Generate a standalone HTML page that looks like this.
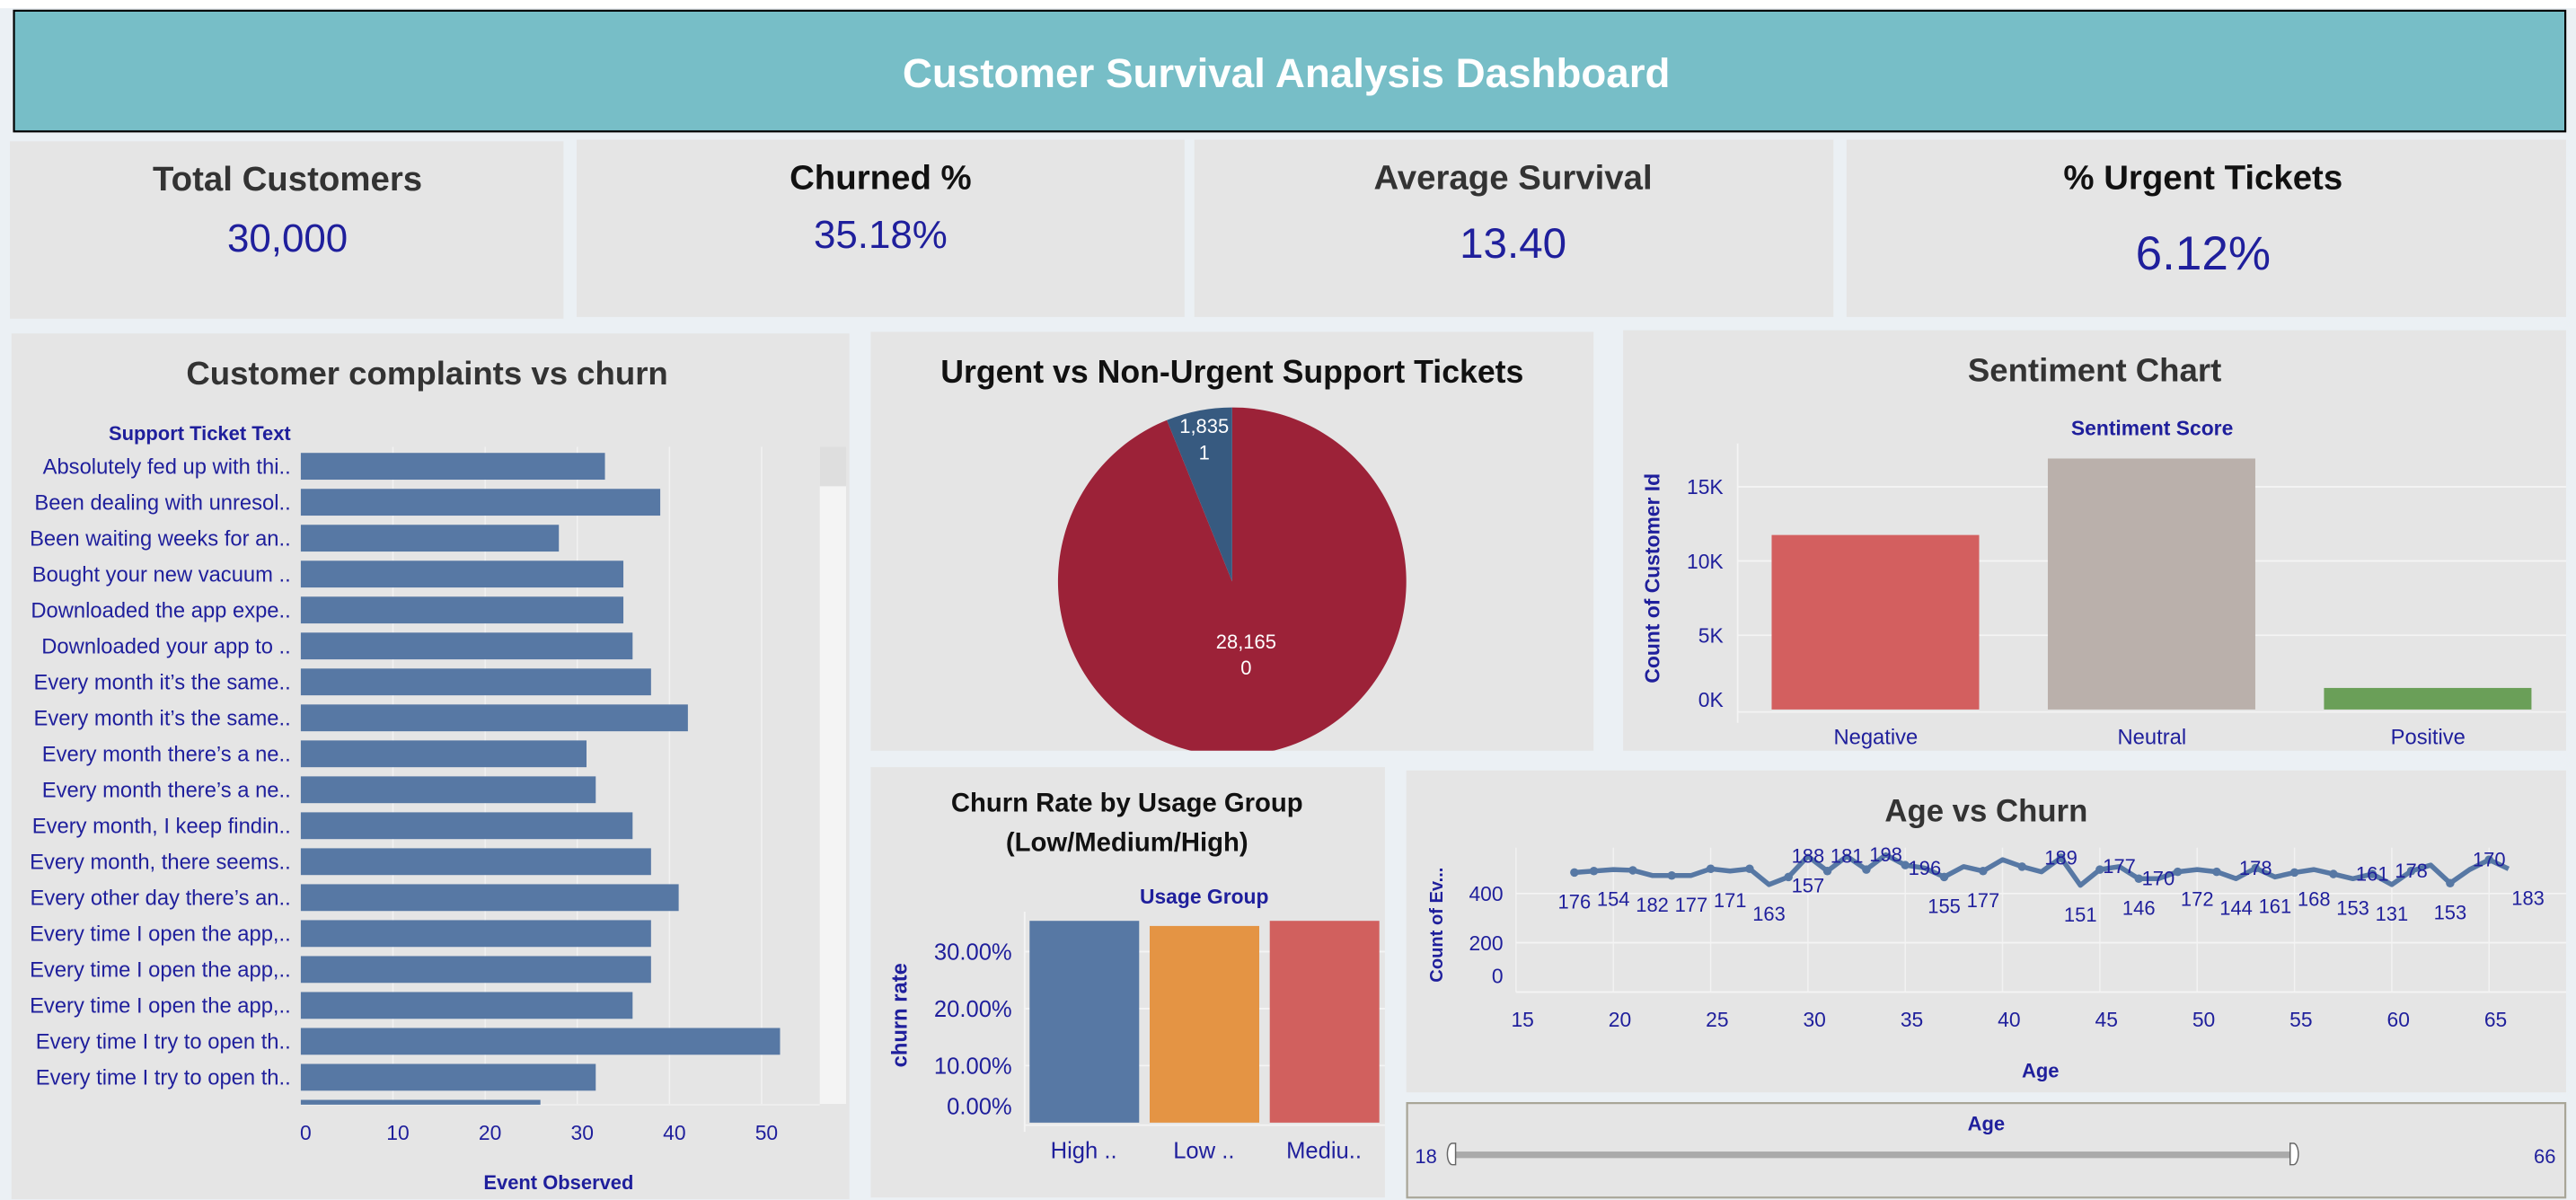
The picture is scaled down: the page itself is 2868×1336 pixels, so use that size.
<!DOCTYPE html>
<html><head><meta charset="utf-8"><title>Customer Survival Analysis Dashboard</title>
<style>
html,body{margin:0;padding:0;background:#ebf0f4;}
svg{display:block;font-family:"Liberation Sans",sans-serif;}
</style></head>
<body>
<svg id="dash" width="2868" height="1336" viewBox="0 0 1568 730.5" preserveAspectRatio="none" xmlns="http://www.w3.org/2000/svg">
<rect x="0" y="0" width="1568" height="730.5" fill="#ebf0f4"/>
<rect x="0" y="0" width="1568" height="5" fill="#ffffff"/>
<g>
<rect x="8.5" y="6.5" width="1553" height="73.5" fill="#77bec7" stroke="#000" stroke-width="1.2"/>
<text x="783" y="53" text-anchor="middle" font-size="25" font-weight="bold" fill="#fff">Customer Survival Analysis Dashboard</text>
</g>
<g>
<rect x="6" y="86" width="337" height="108" fill="#e5e5e5"/>
<text x="175" y="116" text-anchor="middle" font-size="21" font-weight="bold" fill="#333">Total Customers</text>
<text x="175" y="153" text-anchor="middle" font-size="24" fill="#1f1f9c">30,000</text>
</g>
<g>
<rect x="351" y="85" width="370" height="108" fill="#e5e5e5"/>
<text x="536" y="115" text-anchor="middle" font-size="21" font-weight="bold" fill="#111">Churned %</text>
<text x="536" y="151" text-anchor="middle" font-size="24" fill="#1f1f9c">35.18%</text>
</g>
<g>
<rect x="727" y="85" width="389" height="108" fill="#e5e5e5"/>
<text x="921" y="115" text-anchor="middle" font-size="21" font-weight="bold" fill="#333">Average  Survival</text>
<text x="921" y="157" text-anchor="middle" font-size="26" fill="#1f1f9c">13.40</text>
</g>
<g>
<rect x="1124" y="85" width="438" height="108" fill="#e5e5e5"/>
<text x="1341" y="115" text-anchor="middle" font-size="21" font-weight="bold" fill="#111">% Urgent Tickets</text>
<text x="1341" y="164" text-anchor="middle" font-size="29" fill="#1f1f9c">6.12%</text>
</g>

<g id="complaints">
<rect x="7" y="203" width="510" height="527" fill="#e5e5e5"/>
<text x="260" y="234" text-anchor="middle" font-size="20" font-weight="bold" fill="#333">Customer complaints vs churn</text>
<text x="177" y="268" text-anchor="end" font-size="12" font-weight="bold" fill="#1f1f9c">Support Ticket Text</text>
<text x="340" y="724" text-anchor="middle" font-size="12" font-weight="bold" fill="#1f1f9c">Event Observed</text>
<rect x="499" y="272" width="16" height="400" fill="#f4f4f4"/>
<rect x="499" y="272" width="16" height="24" fill="#dedede"/>
</g>

<g id="pie">
<rect x="530" y="202" width="440" height="255" fill="#e5e5e5"/>
<text x="750" y="233" text-anchor="middle" font-size="19.5" font-weight="bold" fill="#111">Urgent vs Non-Urgent Support Tickets</text>
</g>

<g id="senti">
<rect x="988" y="201" width="574" height="256" fill="#e5e5e5"/>
<text x="1275" y="232" text-anchor="middle" font-size="20" font-weight="bold" fill="#333">Sentiment Chart</text>
<text x="1310" y="265" text-anchor="middle" font-size="12.5" font-weight="bold" fill="#1f1f9c">Sentiment Score</text>
<text transform="translate(1010,352) rotate(-90)" text-anchor="middle" font-size="12.5" font-weight="bold" fill="#1f1f9c">Count of Customer Id</text>
</g>

<g id="usage">
<rect x="530" y="467" width="313" height="262" fill="#e5e5e5"/>
<text x="686" y="494" text-anchor="middle" font-size="16" font-weight="bold" fill="#111">Churn Rate by Usage Group</text>
<text x="686" y="518" text-anchor="middle" font-size="16" font-weight="bold" fill="#111">(Low/Medium/High)</text>
<text x="733" y="550" text-anchor="middle" font-size="12.5" font-weight="bold" fill="#1f1f9c">Usage Group</text>
<text transform="translate(552,618) rotate(-90)" text-anchor="middle" font-size="13" font-weight="bold" fill="#1f1f9c">churn rate</text>
</g>

<g id="age">
<rect x="856" y="469" width="706" height="196" fill="#e5e5e5"/>
<text x="1209" y="500" text-anchor="middle" font-size="19" font-weight="bold" fill="#333">Age vs Churn</text>
<text x="1242" y="656" text-anchor="middle" font-size="12" font-weight="bold" fill="#1f1f9c">Age</text>
<text transform="translate(878,563) rotate(-90)" text-anchor="middle" font-size="11" font-weight="bold" fill="#1f1f9c">Count of Ev...</text>
</g>

<g>
<rect x="856.5" y="671.5" width="705" height="57.5" fill="#e5e5e5" stroke="#a8a597" stroke-width="1.2"/>
<text x="1209" y="688" text-anchor="middle" font-size="12" font-weight="bold" fill="#1f1f9c">Age</text>
<text x="868" y="708" text-anchor="middle" font-size="12" fill="#1f1f9c">18</text>
<text x="1549" y="708" text-anchor="middle" font-size="12" fill="#1f1f9c">66</text>
<rect x="884" y="701" width="513" height="4" fill="#aaaaaa"/>
<path d="M886 696 h-2 a3 6.5 0 0 0 0 13 h2 z" fill="#fff" stroke="#666" stroke-width="0.8"/>
<path d="M1394 696 h2 a3 6.5 0 0 1 0 13 h-2 z" fill="#fff" stroke="#666" stroke-width="0.8"/>
</g>
</svg>
<script>
// ---------- data ----------
const complaintLabels = ["Absolutely fed up with thi..","Been dealing with unresol..","Been waiting weeks for an..","Bought your new vacuum ..","Downloaded the app expe..","Downloaded your app to ..","Every month it\u2019s the same..","Every month it\u2019s the same..","Every month there\u2019s a ne..","Every month there\u2019s a ne..","Every month, I keep findin..","Every month, there seems..","Every other day there\u2019s an..","Every time I open the app,..","Every time I open the app,..","Every time I open the app,..","Every time I try to open th..","Every time I try to open th..","Every time I try to open th.."];
const complaintValues = [33,39,28,35,35,36,38,42,31,32,36,38,41,38,38,36,52,32,26];
const complaintTicks = [0,10,20,30,40,50];

const pieCategories = ["0","1"];
const pieValues = [28165,1835];
const pieLabels = ["28,165","1,835"];

const sentimentCategories = ["Negative","Neutral","Positive"];
const sentimentValues = [11750,16900,1450];
const sentimentTicks = [0,5000,10000,15000];
const sentimentTickLabels = ["0K","5K","10K","15K"];

const usageCategories = ["High ..","Low ..","Mediu.."];
const usageValues = [0.354,0.345,0.354];
const usageTicks = [0,0.1,0.2,0.3];
const usageTickLabels = ["0.00%","10.00%","20.00%","30.00%"];

const ages = [18,19,20,21,22,23,24,25,26,27,28,29,30,31,32,33,34,35,36,37,38,39,40,41,42,43,44,45,46,47,48,49,50,51,52,53,54,55,56,57,58,59,60,61,62,63,64,65,66];
const ageCounts = [485,491,497,494,473,473,473,500,491,500,436,467,551,491,551,497,557,515,503,467,509,491,537,509,488,545,433,497,509,460,460,488,497,488,460,503,467,485,497,479,460,479,436,491,515,442,497,537,500];
const ageLabelAges = [18,20,22,24,26,28,30,30,32,34,36,37,39,43,44,46,47,48,50,52,53,54,56,58,59,60,61,63,65,67];
const ageLabelTexts = ["176","154","182","177","171","163","157","188","181","198","196","155","177","189","151","177","146","170","172","144","178","161","168","153","161","131","178","153","170","183"];
const ageLabelAbove = [0,0,0,0,0,0,0,1,1,1,1,0,0,1,0,1,0,1,0,0,1,0,0,0,1,0,1,0,1,0];
const ageXTicks = [15,20,25,30,35,40,45,50,55,60,65];
const ageYTicks = [0,200,400];

const NS = "http://www.w3.org/2000/svg";
const BLUE = "#1f1f9c";
function mk(parent, tag, attrs, txt){
  const e = document.createElementNS(NS, tag);
  for (const k in attrs) e.setAttribute(k, attrs[k]);
  if (txt !== undefined) e.textContent = txt;
  parent.appendChild(e);
  return e;
}

// ---------- complaints bar chart ----------
(function(){
  const g = document.getElementById('complaints');
  const x0 = 183.1, pxPerUnit = 5.61;
  const xs = v => x0 + v * pxPerUnit;
  const rowY = i => 275.7 + i * 21.88;
  const barH = 16.3;
  for (const t of complaintTicks) {
    if (t > 0) {
      const l = mk(g, 'line', {x1: xs(t), x2: xs(t), y1: 272, y2: 672, stroke: '#f2f2f2', 'stroke-width': 0.8});
      
      
    }
    const tl = mk(g, 'text', {x: xs(t) + 3, y: 694, 'text-anchor': 'middle', 'font-size': 12.5, fill: BLUE}, String(t));
    
    
  }
  mk(g, 'line', {x1: 183, x2: 499, y1: 672.5, y2: 672.5, stroke: '#f2f2f2', 'stroke-width': 0.8});
  const clip = mk(g, 'clipPath', {id: 'cclip'});
  mk(clip, 'rect', {x: 0, y: 270, width: 520, height: 402.5});
  const bg = mk(g, 'g', {'clip-path': 'url(#cclip)'});
  complaintValues.forEach((v, i) => {
    const r = mk(bg, 'rect', {x: x0, y: rowY(i), width: xs(v) - x0, height: barH, fill: '#5778a4'});
    
    
    const t = mk(bg, 'text', {x: 177, y: rowY(i) + barH/2 + 4.5, 'text-anchor': 'end', 'font-size': 13, fill: BLUE}, complaintLabels[i]);
    
    
  });
})();

// ---------- pie ----------
(function(){
  const g = document.getElementById('pie');
  const cx = 750, cy = 354, R = 106;
  const clip = mk(g, 'clipPath', {id: 'pclip'});
  mk(clip, 'rect', {x: 530, y: 202, width: 440, height: 255});
  const pg = mk(g, 'g', {'clip-path': 'url(#pclip)'});
  const total = pieValues.reduce((a, b) => a + b, 0);
  const colors = ['#9c2238', '#375a80'];
  let a0 = 0;
  const pt = (a, r) => [cx + r * Math.sin(a), cy - r * Math.cos(a)];
  pieValues.forEach((v, i) => {
    const a1 = a0 + v / total * 2 * Math.PI;
    const p0 = pt(a0, R), p1 = pt(a1, R);
    const large = (a1 - a0) > Math.PI ? 1 : 0;
    const p = mk(pg, 'path', {d: `M${cx},${cy} L${p0[0]},${p0[1]} A${R},${R} 0 ${large} 1 ${p1[0]},${p1[1]} Z`, fill: colors[i]});
    
    
    const mid = (a0 + a1) / 2;
    const lr = (a1 - a0) < 1 ? 0.84 * R : 0.42 * R;
    const lp = pt(mid, lr);
    const t1 = mk(pg, 'text', {x: lp[0], y: lp[1] - 3, 'text-anchor': 'middle', 'font-size': 12, fill: '#fff'}, pieLabels[i]);
    
    
    const t2 = mk(pg, 'text', {x: lp[0], y: lp[1] + 13, 'text-anchor': 'middle', 'font-size': 12, fill: '#fff'}, pieCategories[i]);
    
    
    a0 = a1;
  });
})();

// ---------- sentiment ----------
(function(){
  const g = document.getElementById('senti');
  const base = 431.9, per = 45.2 / 5000;
  const ys = v => base - v * per;
  const left = 1057.7, right = 1562, band = (right - left) / 3;
  sentimentTicks.forEach((t, i) => {
    if (t > 0) {
      const l = mk(g, 'line', {x1: left, x2: right, y1: ys(t), y2: ys(t), stroke: '#f4f4f4', 'stroke-width': 1});
      
      
    }
    const tl = mk(g, 'text', {x: 1049, y: (t === 0 ? ys(t) - 6 : ys(t)) + 4.5, 'text-anchor': 'end', 'font-size': 12.5, fill: BLUE}, sentimentTickLabels[i]);
    
    
  });
  mk(g, 'line', {x1: left, x2: right, y1: base + 1.5, y2: base + 1.5, stroke: '#f4f4f4', 'stroke-width': 1});
  mk(g, 'line', {x1: left, x2: left, y1: 270, y2: 440, stroke: '#f4f4f4', 'stroke-width': 1});
  const colors = ['#d35f5f', '#bab0ab', '#6a9f58'];
  sentimentValues.forEach((v, i) => {
    const bx = left + i * band + 20.7;
    const r = mk(g, 'rect', {x: bx, y: ys(v), width: 126.3, height: base - ys(v), fill: colors[i]});
    
    
    const t = mk(g, 'text', {x: left + (i + 0.5) * band, y: 453, 'text-anchor': 'middle', 'font-size': 13, fill: BLUE}, sentimentCategories[i]);
    
    
  });
})();

// ---------- usage ----------
(function(){
  const g = document.getElementById('usage');
  const base = 683.4, per = 34.7 / 0.1;
  const ys = v => base - v * per;
  const left = 623.7, right = 843, band = (right - left) / 3;
  usageTicks.forEach((t, i) => {
    if (t > 0) {
      const l = mk(g, 'line', {x1: left, x2: right, y1: ys(t), y2: ys(t), stroke: '#f4f4f4', 'stroke-width': 1});
      
      
    }
    const tl = mk(g, 'text', {x: 616, y: (t === 0 ? ys(t) - 10 : ys(t)) + 5, 'text-anchor': 'end', 'font-size': 14, fill: BLUE}, usageTickLabels[i]);
    
    
  });
  mk(g, 'line', {x1: left, x2: right, y1: base + 1.5, y2: base + 1.5, stroke: '#f4f4f4', 'stroke-width': 1});
  mk(g, 'line', {x1: left, x2: left, y1: 555, y2: 689, stroke: '#f4f4f4', 'stroke-width': 1});
  const colors = ['#5778a4', '#e49444', '#d1605e'];
  usageValues.forEach((v, i) => {
    const bx = left + i * band + 3;
    const r = mk(g, 'rect', {x: bx, y: ys(v), width: 66.7, height: base - ys(v), fill: colors[i]});
    
    
    const t = mk(g, 'text', {x: bx + 33, y: 705, 'text-anchor': 'middle', 'font-size': 14, fill: BLUE}, usageCategories[i]);
    
    
  });
})();

// ---------- age line ----------
(function(){
  const g = document.getElementById('age');
  const xs = a => 922.8 + (a - 15) * 11.846;
  const base = 603.9, per = 30 / 200;
  const ys = v => base - v * per;
  const left = 922.8, right = 1562, top = 516;
  ageXTicks.forEach(t => {
    const l = mk(g, 'line', {x1: xs(t), x2: xs(t), y1: top, y2: base, stroke: '#f2f2f2', 'stroke-width': 0.8});
    
    
    const tl = mk(g, 'text', {x: xs(t) + 4, y: 625, 'text-anchor': 'middle', 'font-size': 12.5, fill: BLUE}, String(t));
    
    
  });
  ageYTicks.forEach(t => {
    if (t > 0) mk(g, 'line', {x1: left, x2: right, y1: ys(t), y2: ys(t), stroke: '#f4f4f4', 'stroke-width': 1});
    const tl = mk(g, 'text', {x: 915, y: (t === 0 ? ys(t) - 10 : ys(t)) + 4.5, 'text-anchor': 'end', 'font-size': 12.5, fill: BLUE}, String(t));
    
    
  });
  mk(g, 'line', {x1: left, x2: right, y1: base, y2: base, stroke: '#f4f4f4', 'stroke-width': 1});
  const d = ageCounts.map((v, i) => (i ? 'L' : 'M') + xs(ages[i]) + ',' + ys(v)).join(' ');
  const p = mk(g, 'path', {d: d, fill: 'none', stroke: '#5778a4', 'stroke-width': 3, 'stroke-linejoin': 'round'});
  
  
  ageCounts.forEach((v, i) => {
    if (i % 2 === 1 || i === 0) {
      const c = mk(g, 'circle', {cx: xs(ages[i]), cy: ys(v), r: 2.6, fill: '#5778a4'});
      
      
    }
  });
  ageLabelTexts.forEach((txt, i) => {
    const a = ageLabelAges[i];
    const idx = Math.min(ages.indexOf(Math.min(a, 66)), ageCounts.length - 1);
    const py = ys(ageCounts[idx]);
    const y = ageLabelAbove[i] ? py + 4 : py + 22;
    const t = mk(g, 'text', {x: xs(a), y: y, 'text-anchor': 'middle', 'font-size': 12, fill: BLUE}, txt);
    
    
  });
})();
</script>
</body></html>
